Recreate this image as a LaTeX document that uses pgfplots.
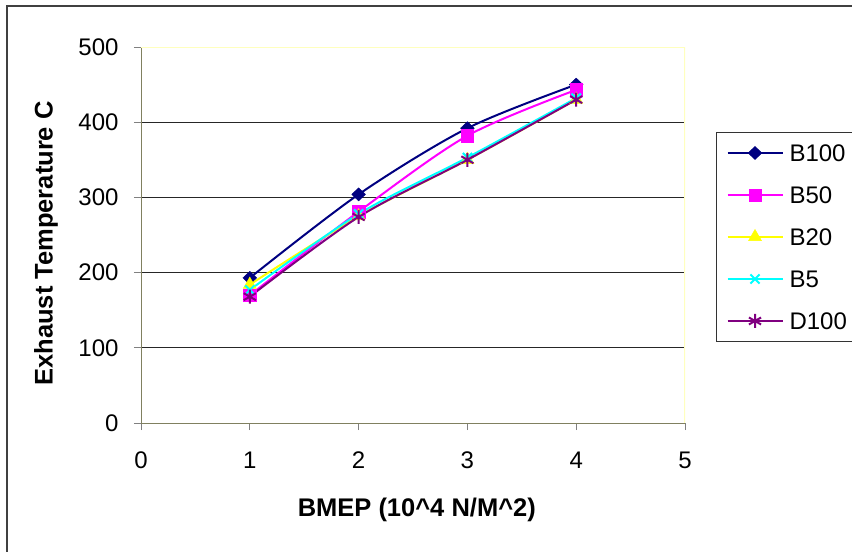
\documentclass[border=0pt]{standalone}
\usepackage{fontspec}
\setmainfont{Liberation Sans}
\usepackage{pgfplots}
\pgfplotsset{compat=1.18}

\definecolor{cBhundred}{RGB}{0,0,128}
\definecolor{cBfifty}{RGB}{255,0,255}
\definecolor{cBtwenty}{RGB}{255,255,0}
\definecolor{cBfive}{RGB}{0,255,255}
\definecolor{cDhundred}{RGB}{128,0,128}
\definecolor{axisolive}{RGB}{128,128,96}
\definecolor{paleyellow}{RGB}{255,255,190}

\begin{document}
\begin{tikzpicture}
\useasboundingbox (0,0) rectangle (852bp,552bp);
% outer chart border (cropped on the right and bottom)
\draw[line width=2bp, black!75] (7bp,-20bp) -- (7bp,546bp) -- (880bp,546bp);
\begin{axis}[
  at={(141bp,129bp)}, anchor=south west,
  width=544bp, height=376bp, scale only axis,
  xmin=0, xmax=5, ymin=0, ymax=500,
  xtick={0,1,2,3,4,5}, ytick={0,100,200,300,400,500},
  axis lines=left,
  axis line style={-, line width=1bp, color=axisolive},
  tick align=outside, major tick length=7bp,
  tick style={line width=1bp, color=gray},
  ymajorgrids, grid style={line width=1bp, black!85},
  /pgf/number format/assume math mode=true,
  xticklabel style={font=\fontsize{24bp}{28bp}\selectfont, yshift=-18bp},
  yticklabel style={font=\fontsize{24bp}{28bp}\selectfont, xshift=-12bp},
  xlabel={BMEP (10\textasciicircum 4 N/M\textasciicircum 2)},
  ylabel={Exhaust Temperature C},
  every axis x label/.style={at={(axis description cs:0.507,-0.249)}, anchor=base,
    font=\fontsize{25.5bp}{30bp}\selectfont\bfseries},
  every axis y label/.style={at={(axis description cs:-0.1746,0.4774)}, rotate=90, anchor=center,
    font=\fontsize{25.5bp}{30bp}\selectfont\bfseries},
  legend style={at={(axis description cs:1.057,0.774)}, anchor=north west,
    draw=black!80, line width=1bp, fill=white,
    font=\fontsize{24bp}{28bp}\selectfont,
    inner xsep=10bp, inner ysep=12bp, row sep=25bp, column sep=6bp,
    nodes={inner sep=0bp, text height=17bp, text depth=0bp},
    cells={anchor=west}},
  legend image code/.code={\draw[mark repeat=2,mark phase=2,#1]
    plot coordinates {(0bp,0bp)(27.5bp,0bp)(55bp,0bp)};},
  every axis plot/.append style={line width=2bp, smooth, tension=0.5},
]
\addplot[color=cBhundred, mark=diamond*, mark size=6.5bp, mark options={solid, line width=0.5bp, xscale=1.4}]
  coordinates {(1,193) (2,304) (3,392) (4,450)};
\addlegendentry{\makebox[66bp][l]{B100}}
\addplot[color=cBfifty, mark=square*, mark size=6.2bp, mark options={solid, line width=0.5bp}]
  coordinates {(1,170) (2,281) (3,382) (4,443)};
\addlegendentry{\makebox[66bp][l]{B50}}
\addplot[color=cBtwenty, mark=triangle*, mark size=7.5bp, mark options={solid, line width=0.5bp}]
  coordinates {(1,184) (2,275) (3,350) (4,430)};
\addlegendentry{\makebox[66bp][l]{B20}}
\addplot[color=cBfive, mark=x, mark size=6.5bp, mark options={solid, line width=2bp}]
  coordinates {(1,177) (2,278) (3,353) (4,432)};
\addlegendentry{\makebox[66bp][l]{B5}}
\addplot[color=cDhundred, mark=asterisk, mark size=7bp, mark options={solid, line width=2bp}]
  coordinates {(1,168) (2,274) (3,350) (4,430)};
\addlegendentry{\makebox[66bp][l]{D100}}
% pale top and right borders of the plot area
\draw[paleyellow, line width=1.5bp] (rel axis cs:0,1) -- (rel axis cs:1,1) -- (rel axis cs:1,0);
\end{axis}
\end{tikzpicture}
\end{document}
